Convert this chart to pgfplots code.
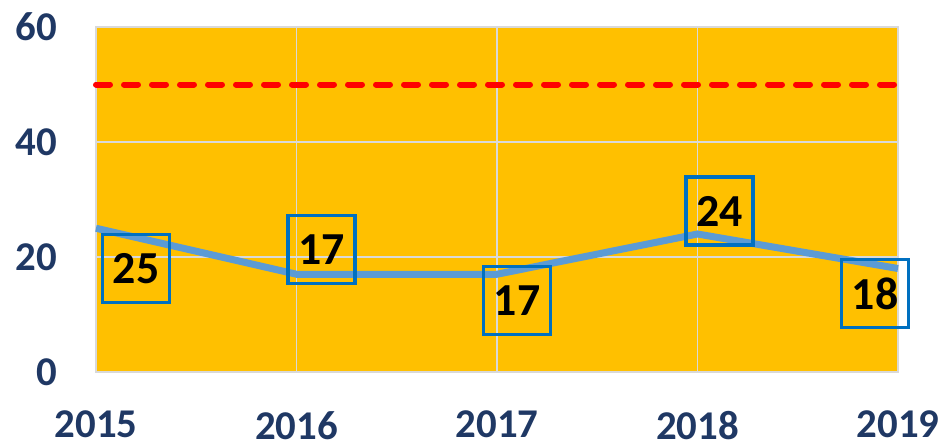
\documentclass[border=0pt]{standalone}
\usepackage{fontspec}
\setmainfont{Carlito}
\usepackage{pgfplots}
\pgfplotsset{compat=1.18}
\usepackage{pgfplotstable}
\definecolor{bgorange}{HTML}{FFC000}
\definecolor{navy}{HTML}{1F3864}
\definecolor{lineblue}{HTML}{5B9BD5}
\definecolor{boxblue}{HTML}{0070C0}
\definecolor{gridgray}{HTML}{D9D9D9}
\pgfplotstableread{
year val dx dy
2015 25 40 -40
2016 17 25 25
2017 17 20 -26
2018 24 22 23
2019 18 -23 -25
}\datatable
\begin{document}
\begin{tikzpicture}
\begin{axis}[
  scale only axis,
  width=802bp, height=345bp,
  xmin=2015, xmax=2019, ymin=0, ymax=60,
  xtick={2015,2016,2017,2018,2019},
  ytick={0,20,40,60},
  major tick length=0pt,
  grid=major,
  major grid style={gridgray, line width=1.5bp},
  axis line style={gridgray, line width=2bp},
  axis background/.style={fill=bgorange},
  /pgf/number format/1000 sep={},
  /pgf/number format/assume math mode=true,
  ticklabel style={font=\fontsize{41}{41}\selectfont\bfseries, text=navy, inner sep=0pt, text depth=0pt},
  yticklabel style={anchor=east, xshift=-39bp},
  xticklabel style={anchor=north, yshift=-39bp},
  clip=false,
]
\addplot[red, line width=6bp, line cap=round, dash pattern=on 14bp off 14bp] coordinates {(2015,50) (2019,50)};
\addplot[lineblue, line width=7bp,
  point meta=explicit,
  visualization depends on={\thisrow{dx}\as\dx},
  visualization depends on={\thisrow{dy}\as\dy},
  nodes near coords,
  nodes near coords style={anchor=center, xshift=\dx bp, yshift=\dy bp,
    draw=boxblue, line width=3.5bp, inner sep=0pt, minimum width=67bp, minimum height=68bp,
    text=black, font=\fontsize{46}{46}\selectfont\bfseries,
    /pgf/number format/assume math mode=true},
] table[x=year, y=val, meta=val] {\datatable};
\end{axis}
\path (current axis.south west) ++(-96bp,-73bp) rectangle ++(945bp,445bp);
\end{tikzpicture}
\end{document}
